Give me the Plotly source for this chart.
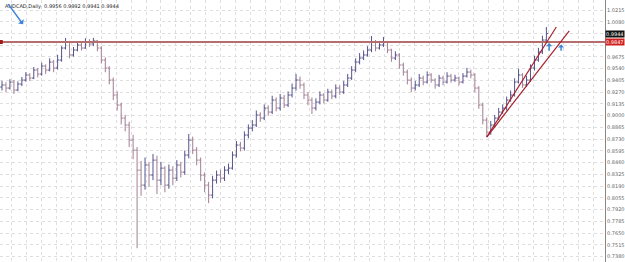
import plotly.graph_objects as go

# ---- data (AUDCAD daily, compressed bars) ----
first_open = 0.9330
closes = [0.9353,0.9318,0.9387,0.9295,0.9364,0.9410,0.9468,0.9433,0.9525,0.9479,
          0.9571,0.9525,0.9617,0.9548,0.9640,0.9778,0.9847,0.9698,0.9755,0.9813,
          0.9778,0.9847,0.9824,0.9859,0.9778,0.9640,0.9548,0.9410,0.9238,0.9123,
          0.8973,0.8893,0.8720,0.8605,0.8375,0.8203,0.8433,0.8318,0.8490,0.8260,
          0.8398,0.8203,0.8375,0.8283,0.8433,0.8352,0.8548,0.8720,0.8605,0.8490,
          0.8318,0.8203,0.8088,0.8260,0.8318,0.8283,0.8375,0.8398,0.8548,0.8663,
          0.8628,0.8778,0.8858,0.8893,0.9008,0.8973,0.9088,0.9042,0.9180,0.9088,
          0.9203,0.9123,0.9238,0.9318,0.9410,0.9353,0.9238,0.9180,0.9088,0.9157,
          0.9238,0.9180,0.9272,0.9226,0.9318,0.9272,0.9353,0.9433,0.9525,0.9617,
          0.9663,0.9698,0.9755,0.9847,0.9778,0.9813,0.9847,0.9755,0.9663,0.9698,
          0.9583,0.9502,0.9410,0.9318,0.9353,0.9433,0.9387,0.9468,0.9410,0.9353,
          0.9433,0.9387,0.9456,0.9410,0.9433,0.9387,0.9456,0.9502,0.9468,0.9318,
          0.9123,0.8950,0.8812,0.8893,0.8973,0.9042,0.9088,0.9180,0.9238,0.9387,
          0.9468,0.9353,0.9410,0.9548,0.9640,0.9732,0.9870,0.9944]
highs = [0.9400,0.9385,0.9420,0.9410,0.9395,0.9445,0.9500,0.9490,0.9560,0.9550,
         0.9610,0.9590,0.9660,0.9640,0.9700,0.9800,0.9893,0.9860,0.9790,0.9850,
         0.9845,0.9890,0.9880,0.9895,0.9870,0.9800,0.9670,0.9570,0.9440,0.9280,
         0.9150,0.9010,0.8930,0.8780,0.8640,0.8480,0.8520,0.8470,0.8560,0.8540,
         0.8470,0.8420,0.8440,0.8420,0.8490,0.8470,0.8600,0.8790,0.8760,0.8640,
         0.8520,0.8350,0.8240,0.8310,0.8370,0.8380,0.8420,0.8450,0.8590,0.8710,
         0.8700,0.8820,0.8900,0.8950,0.9060,0.9040,0.9130,0.9120,0.9230,0.9210,
         0.9250,0.9240,0.9280,0.9370,0.9480,0.9450,0.9380,0.9270,0.9210,0.9200,
         0.9280,0.9260,0.9310,0.9300,0.9360,0.9350,0.9400,0.9480,0.9570,0.9660,
         0.9720,0.9750,0.9800,0.9916,0.9870,0.9860,0.9905,0.9860,0.9770,0.9740,
         0.9720,0.9610,0.9530,0.9440,0.9400,0.9480,0.9460,0.9510,0.9490,0.9430,
         0.9470,0.9460,0.9500,0.9480,0.9470,0.9450,0.9490,0.9550,0.9530,0.9490,
         0.9340,0.9150,0.8980,0.8940,0.9010,0.9090,0.9130,0.9220,0.9290,0.9430,
         0.9540,0.9490,0.9460,0.9590,0.9690,0.9780,0.9920,1.0020]
lows = [0.9290,0.9270,0.9300,0.9250,0.9280,0.9340,0.9390,0.9400,0.9420,0.9440,
        0.9460,0.9480,0.9510,0.9500,0.9530,0.9620,0.9760,0.9660,0.9680,0.9740,
        0.9750,0.9770,0.9790,0.9800,0.9740,0.9600,0.9500,0.9360,0.9180,0.9060,
        0.8900,0.8820,0.8640,0.8500,0.7478,0.8080,0.8150,0.8180,0.8260,0.8100,
        0.8200,0.8120,0.8160,0.8200,0.8250,0.8290,0.8320,0.8510,0.8560,0.8430,
        0.8250,0.8120,0.7996,0.8050,0.8220,0.8230,0.8250,0.8330,0.8380,0.8520,
        0.8590,0.8600,0.8740,0.8820,0.8870,0.8930,0.8950,0.9000,0.9020,0.9050,
        0.9060,0.9090,0.9100,0.9210,0.9290,0.9310,0.9190,0.9120,0.9020,0.9060,
        0.9130,0.9140,0.9160,0.9190,0.9200,0.9240,0.9250,0.9330,0.9410,0.9500,
        0.9590,0.9640,0.9680,0.9730,0.9740,0.9760,0.9790,0.9720,0.9620,0.9640,
        0.9540,0.9460,0.9360,0.9270,0.9290,0.9330,0.9350,0.9370,0.9380,0.9310,
        0.9330,0.9350,0.9370,0.9380,0.9390,0.9350,0.9370,0.9440,0.9430,0.9270,
        0.9080,0.8900,0.8755,0.8780,0.8860,0.8950,0.9020,0.9060,0.9160,0.9220,
        0.9370,0.9320,0.9330,0.9390,0.9520,0.9620,0.9710,0.9850]
opens = [first_open] + closes[:-1]
bars = list(range(len(closes)))

resistance = 0.9847
trend1_x = [122, 139.5]
trend1_y = [0.8755, 1.0020]
trend2_x = [122, 142.75]
trend2_y = [0.8755, 0.9974]
tick_vals = [1.0215, 1.0080, 0.9945, 0.9810, 0.9675, 0.9540, 0.9405, 0.9270,
             0.9135, 0.9000, 0.8865, 0.8730, 0.8595, 0.8460, 0.8325, 0.8190,
             0.8055, 0.7920, 0.7785, 0.7650, 0.7515, 0.7380]
hidden_ticks = [0.9945, 0.9810]   # covered by the price boxes
header = "AUDCAD,Daily  0.9956 0.9992 0.9941 0.9944"

fig = go.Figure()
fig.add_trace(go.Ohlc(x=bars, open=opens, high=highs, low=lows, close=closes,
                      increasing=dict(line=dict(color="#55538c", width=1)),
                      decreasing=dict(line=dict(color="#a27e92", width=1)),
                      tickwidth=0.45, showlegend=False, hoverinfo="skip"))
fig.add_trace(go.Scatter(x=[-0.5, 151.75], y=[resistance, resistance], mode="lines",
                         line=dict(color="#b56e6e", width=2), showlegend=False,
                         hoverinfo="skip"))
fig.add_trace(go.Scatter(x=[-0.3], y=[resistance], mode="markers",
                         marker=dict(color="#a01818", size=4, symbol="square"),
                         showlegend=False, hoverinfo="skip"))
fig.add_trace(go.Scatter(x=trend1_x, y=trend1_y, mode="lines",
                         line=dict(color="#a8202c", width=1.2), showlegend=False,
                         hoverinfo="skip"))
fig.add_trace(go.Scatter(x=trend2_x, y=trend2_y, mode="lines",
                         line=dict(color="#a8202c", width=1.2), showlegend=False,
                         hoverinfo="skip"))

fig.update_layout(
    width=625, height=262, margin=dict(l=0, r=16, t=0, b=0),
    paper_bgcolor="white", plot_bgcolor="white",
    font=dict(family="DejaVu Sans", size=5, color="#555"),
    xaxis=dict(range=[-0.5, 151.75], rangeslider=dict(visible=False),
               showticklabels=False, showgrid=True, gridcolor="#dedede",
               griddash="dot", gridwidth=1, dtick=3.75, tick0=2.5,
               zeroline=False, showline=False, fixedrange=True),
    yaxis=dict(range=[0.7319, 1.0330], side="right", tickvals=tick_vals,
               ticktext=["" if v in hidden_ticks else f"{v:.4f}" for v in tick_vals],
               showgrid=True, gridcolor="#dedede", griddash="dot", gridwidth=1,
               showline=True, linecolor="#888", linewidth=1, ticks="",
               tickfont=dict(size=5, color="#666"), zeroline=False),
)

# price boxes on right axis
fig.add_annotation(xref="paper", yref="y", x=1.0, y=closes[-1], xanchor="left",
                   text=f"{closes[-1]:.4f}", showarrow=False, bgcolor="#111",
                   font=dict(size=5, color="white"), borderpad=0)
fig.add_annotation(xref="paper", yref="y", x=1.0, y=resistance, xanchor="left",
                   text=f"{resistance:.4f}", showarrow=False, bgcolor="#d02020",
                   font=dict(size=5, color="white"), borderpad=0)
# header text
fig.add_annotation(xref="paper", yref="paper", x=0.005, y=0.995, xanchor="left",
                   yanchor="top", text=header, showarrow=False,
                   font=dict(size=5, color="#222"))
# blue arrows
fig.add_annotation(xref="x", yref="y", x=5.3, y=1.0050, ax=1.3, ay=1.0300,
                   axref="x", ayref="y", showarrow=True, arrowhead=1,
                   arrowsize=0.8, arrowwidth=1.5, arrowcolor="#3f86d8", text="")
fig.add_annotation(xref="x", yref="y", x=137.7, y=0.9835, ax=137.7, ay=0.9730,
                   axref="x", ayref="y", showarrow=True, arrowhead=1,
                   arrowsize=0.7, arrowwidth=1.5, arrowcolor="#3f86d8", text="")
fig.add_annotation(xref="x", yref="y", x=140.7, y=0.9820, ax=140.7, ay=0.9730,
                   axref="x", ayref="y", showarrow=True, arrowhead=1,
                   arrowsize=0.7, arrowwidth=1.5, arrowcolor="#3f86d8", text="")

fig.write_html("out.html")
